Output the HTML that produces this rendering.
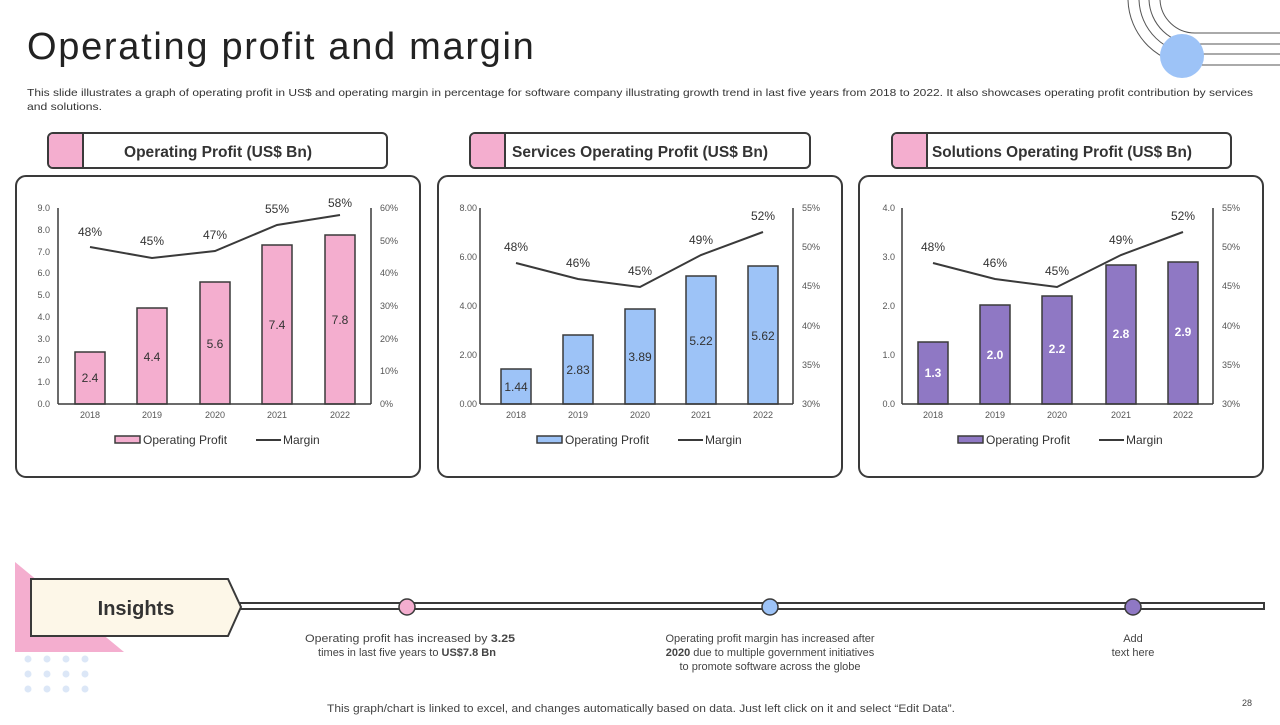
<!DOCTYPE html>
<html><head><meta charset="utf-8"><style>
body{margin:0;width:1280px;height:720px;overflow:hidden;background:#fff;font-family:"Liberation Sans",sans-serif}
svg text{font-family:"Liberation Sans",sans-serif}
</style></head><body>
<svg width="1280" height="720" viewBox="0 0 1280 720" xmlns="http://www.w3.org/2000/svg">
<g fill="none" stroke="#555" stroke-width="1">
<path d="M1160,0 A35,35 0 0 0 1195,33 L1280,33"/>
<path d="M1149,0 A46,46 0 0 0 1195,44 L1280,44"/>
<path d="M1139,0 A56,56 0 0 0 1195,54 L1280,54"/>
<path d="M1128,0 A67,67 0 0 0 1195,65 L1280,65"/>
</g>
<circle cx="1182" cy="56" r="22" fill="#9DC3F7"/>
<text x="27" y="59" font-size="38" fill="#222" letter-spacing="1.7">Operating profit and margin</text>
<text x="27" y="96" font-size="10.5" fill="#333" textLength="1226" lengthAdjust="spacingAndGlyphs">This slide illustrates a graph of operating profit in US$ and operating margin in percentage for software company illustrating growth trend in last five years from 2018 to 2022. It also showcases operating profit contribution by services</text>
<text x="27" y="110" font-size="10.5" fill="#333" textLength="75" lengthAdjust="spacingAndGlyphs">and solutions.</text>

<g stroke="#3a3a3a" stroke-width="2">
<rect x="48" y="133" width="339" height="35" rx="5" fill="#fff"/>
<rect x="470" y="133" width="340" height="35" rx="5" fill="#fff"/>
<rect x="892" y="133" width="339" height="35" rx="5" fill="#fff"/>
</g>
<path d="M53,134 H83 V167 H53 a4,4 0 0 1 -4,-4 V138 a4,4 0 0 1 4,-4z" fill="#F4AECF"/>
<path d="M475,134 H505 V167 H475 a4,4 0 0 1 -4,-4 V138 a4,4 0 0 1 4,-4z" fill="#F4AECF"/>
<path d="M897,134 H927 V167 H897 a4,4 0 0 1 -4,-4 V138 a4,4 0 0 1 4,-4z" fill="#F4AECF"/>
<g stroke="#3a3a3a" stroke-width="2"><line x1="83" y1="134" x2="83" y2="167"/><line x1="505" y1="134" x2="505" y2="167"/><line x1="927" y1="134" x2="927" y2="167"/></g>
<g font-size="16" font-weight="bold" fill="#333" text-anchor="middle">
<text x="218" y="157" textLength="188" lengthAdjust="spacingAndGlyphs">Operating Profit (US$ Bn)</text>
<text x="640" y="157" textLength="256" lengthAdjust="spacingAndGlyphs">Services Operating Profit (US$ Bn)</text>
<text x="1062" y="157" textLength="260" lengthAdjust="spacingAndGlyphs">Solutions Operating Profit (US$ Bn)</text>
</g>
<g fill="#fff" stroke="#3a3a3a" stroke-width="2">
<rect x="16" y="176" width="404" height="301" rx="10"/>
<rect x="438" y="176" width="404" height="301" rx="10"/>
<rect x="859" y="176" width="404" height="301" rx="10"/>
</g>

<!-- Chart 1 -->
<g font-size="9" fill="#555">
<g text-anchor="end">
<text x="50" y="407">0.0</text><text x="50" y="385">1.0</text><text x="50" y="363">2.0</text><text x="50" y="342">3.0</text><text x="50" y="320">4.0</text><text x="50" y="298">5.0</text><text x="50" y="276">6.0</text><text x="50" y="255">7.0</text><text x="50" y="233">8.0</text><text x="50" y="211">9.0</text>
</g>
<text x="380" y="407">0%</text><text x="380" y="374">10%</text><text x="380" y="342">20%</text><text x="380" y="309">30%</text><text x="380" y="276">40%</text><text x="380" y="244">50%</text><text x="380" y="211">60%</text>
<g text-anchor="middle"><text x="90" y="418">2018</text><text x="152" y="418">2019</text><text x="215" y="418">2020</text><text x="277" y="418">2021</text><text x="340" y="418">2022</text></g>
</g>
<g fill="#F4AECF" stroke="#3a3a3a" stroke-width="1.5">
<rect x="75" y="352" width="30" height="52"/><rect x="137" y="308" width="30" height="96"/><rect x="200" y="282" width="30" height="122"/><rect x="262" y="245" width="30" height="159"/><rect x="325" y="235" width="30" height="169"/>
</g>
<g stroke="#3a3a3a" stroke-width="1.5"><line x1="58" y1="208" x2="58" y2="404"/><line x1="58" y1="404" x2="371" y2="404"/><line x1="371" y1="208" x2="371" y2="404"/></g>
<polyline points="90,247 152,258 215,251 277,225 340,215" fill="none" stroke="#3a3a3a" stroke-width="2"/>
<g font-size="12" fill="#333" text-anchor="middle">
<text x="90" y="382">2.4</text><text x="152" y="361">4.4</text><text x="215" y="348">5.6</text><text x="277" y="329">7.4</text><text x="340" y="324">7.8</text>
<text x="90" y="236">48%</text><text x="152" y="245">45%</text><text x="215" y="239">47%</text><text x="277" y="213">55%</text><text x="340" y="207">58%</text>
</g>

<!-- Chart 2 -->
<g font-size="9" fill="#555">
<g text-anchor="end">
<text x="477" y="407">0.00</text><text x="477" y="358">2.00</text><text x="477" y="309">4.00</text><text x="477" y="260">6.00</text><text x="477" y="211">8.00</text>
</g>
<text x="802" y="407">30%</text><text x="802" y="368">35%</text><text x="802" y="329">40%</text><text x="802" y="289">45%</text><text x="802" y="250">50%</text><text x="802" y="211">55%</text>
<g text-anchor="middle"><text x="516" y="418">2018</text><text x="578" y="418">2019</text><text x="640" y="418">2020</text><text x="701" y="418">2021</text><text x="763" y="418">2022</text></g>
</g>
<g fill="#9DC3F7" stroke="#3a3a3a" stroke-width="1.5">
<rect x="501" y="369" width="30" height="35"/><rect x="563" y="335" width="30" height="69"/><rect x="625" y="309" width="30" height="95"/><rect x="686" y="276" width="30" height="128"/><rect x="748" y="266" width="30" height="138"/>
</g>
<g stroke="#3a3a3a" stroke-width="1.5"><line x1="480" y1="208" x2="480" y2="404"/><line x1="480" y1="404" x2="793" y2="404"/><line x1="793" y1="208" x2="793" y2="404"/></g>
<polyline points="516,263 578,279 640,287 701,255 763,232" fill="none" stroke="#3a3a3a" stroke-width="2"/>
<g font-size="12" fill="#333" text-anchor="middle">
<text x="516" y="391">1.44</text><text x="578" y="374">2.83</text><text x="640" y="361">3.89</text><text x="701" y="345">5.22</text><text x="763" y="340">5.62</text>
<text x="516" y="251">48%</text><text x="578" y="267">46%</text><text x="640" y="275">45%</text><text x="701" y="244">49%</text><text x="763" y="220">52%</text>
</g>

<!-- Chart 3 -->
<g font-size="9" fill="#555">
<g text-anchor="end">
<text x="895" y="407">0.0</text><text x="895" y="358">1.0</text><text x="895" y="309">2.0</text><text x="895" y="260">3.0</text><text x="895" y="211">4.0</text>
</g>
<text x="1222" y="407">30%</text><text x="1222" y="368">35%</text><text x="1222" y="329">40%</text><text x="1222" y="289">45%</text><text x="1222" y="250">50%</text><text x="1222" y="211">55%</text>
<g text-anchor="middle"><text x="933" y="418">2018</text><text x="995" y="418">2019</text><text x="1057" y="418">2020</text><text x="1121" y="418">2021</text><text x="1183" y="418">2022</text></g>
</g>
<g fill="#8F78C4" stroke="#3a3a3a" stroke-width="1.5">
<rect x="918" y="342" width="30" height="62"/><rect x="980" y="305" width="30" height="99"/><rect x="1042" y="296" width="30" height="108"/><rect x="1106" y="265" width="30" height="139"/><rect x="1168" y="262" width="30" height="142"/>
</g>
<g stroke="#3a3a3a" stroke-width="1.5"><line x1="902" y1="208" x2="902" y2="404"/><line x1="902" y1="404" x2="1213" y2="404"/><line x1="1213" y1="208" x2="1213" y2="404"/></g>
<polyline points="933,263 995,279 1057,287 1121,255 1183,232" fill="none" stroke="#3a3a3a" stroke-width="2"/>
<g font-size="12" font-weight="bold" fill="#fff" text-anchor="middle">
<text x="933" y="377">1.3</text><text x="995" y="359">2.0</text><text x="1057" y="353">2.2</text><text x="1121" y="338">2.8</text><text x="1183" y="336">2.9</text>
</g>
<g font-size="12" fill="#333" text-anchor="middle">
<text x="933" y="251">48%</text><text x="995" y="267">46%</text><text x="1057" y="275">45%</text><text x="1121" y="244">49%</text><text x="1183" y="220">52%</text>
</g>

<g stroke="#3a3a3a" stroke-width="1.5">
<rect x="115" y="436" width="25" height="7" fill="#F4AECF"/><rect x="537" y="436" width="25" height="7" fill="#9DC3F7"/><rect x="958" y="436" width="25" height="7" fill="#8F78C4"/>
</g>
<g stroke="#3a3a3a" stroke-width="2"><line x1="256" y1="440" x2="281" y2="440"/><line x1="678" y1="440" x2="703" y2="440"/><line x1="1099" y1="440" x2="1124" y2="440"/></g>
<g font-size="12" fill="#333">
<text x="143" y="444">Operating Profit</text><text x="283" y="444">Margin</text>
<text x="565" y="444">Operating Profit</text><text x="705" y="444">Margin</text>
<text x="986" y="444">Operating Profit</text><text x="1126" y="444">Margin</text>
</g>

<polygon points="15,562 15,652 124,652" fill="#F4AECF"/>
<g fill="#DCE7F7">
<circle cx="28" cy="659" r="3.5"/><circle cx="47" cy="659" r="3.5"/><circle cx="66" cy="659" r="3.5"/><circle cx="85" cy="659" r="3.5"/>
<circle cx="28" cy="674" r="3.5"/><circle cx="47" cy="674" r="3.5"/><circle cx="66" cy="674" r="3.5"/><circle cx="85" cy="674" r="3.5"/>
<circle cx="28" cy="689" r="3.5"/><circle cx="47" cy="689" r="3.5"/><circle cx="66" cy="689" r="3.5"/><circle cx="85" cy="689" r="3.5"/>
</g>
<rect x="240" y="603" width="1024" height="6" fill="#fff" stroke="#3a3a3a" stroke-width="2"/>
<polygon points="31,579 228,579 241,607 228,636 31,636" fill="#FDF7E8" stroke="#3a3a3a" stroke-width="2"/>
<text x="136" y="615" font-size="20" font-weight="bold" fill="#333" text-anchor="middle">Insights</text>
<circle cx="407" cy="607" r="8" fill="#F4AECF" stroke="#3a3a3a" stroke-width="1.5"/>
<circle cx="770" cy="607" r="8" fill="#9DC3F7" stroke="#3a3a3a" stroke-width="1.5"/>
<circle cx="1133" cy="607" r="8" fill="#8F78C4" stroke="#3a3a3a" stroke-width="1.5"/>
<g font-size="11" fill="#444" text-anchor="middle">
<text x="410" y="642" textLength="210" lengthAdjust="spacingAndGlyphs">Operating profit has increased by <tspan font-weight="bold">3.25</tspan></text>
<text x="407" y="656">times in last five years to <tspan font-weight="bold">US$7.8 Bn</tspan></text>
<text x="770" y="642">Operating profit margin has increased after</text>
<text x="770" y="656"><tspan font-weight="bold">2020</tspan> due to multiple government initiatives</text>
<text x="770" y="670">to promote software across the globe</text>
<text x="1133" y="642">Add</text>
<text x="1133" y="656">text here</text>
<text x="641" y="712" textLength="628" lengthAdjust="spacingAndGlyphs">This graph/chart is linked to excel, and changes automatically based on data. Just left click on it and select “Edit Data”.</text>
</g>
<text x="1247" y="706" font-size="9" fill="#444" text-anchor="middle">28</text>
</svg>
</body></html>
